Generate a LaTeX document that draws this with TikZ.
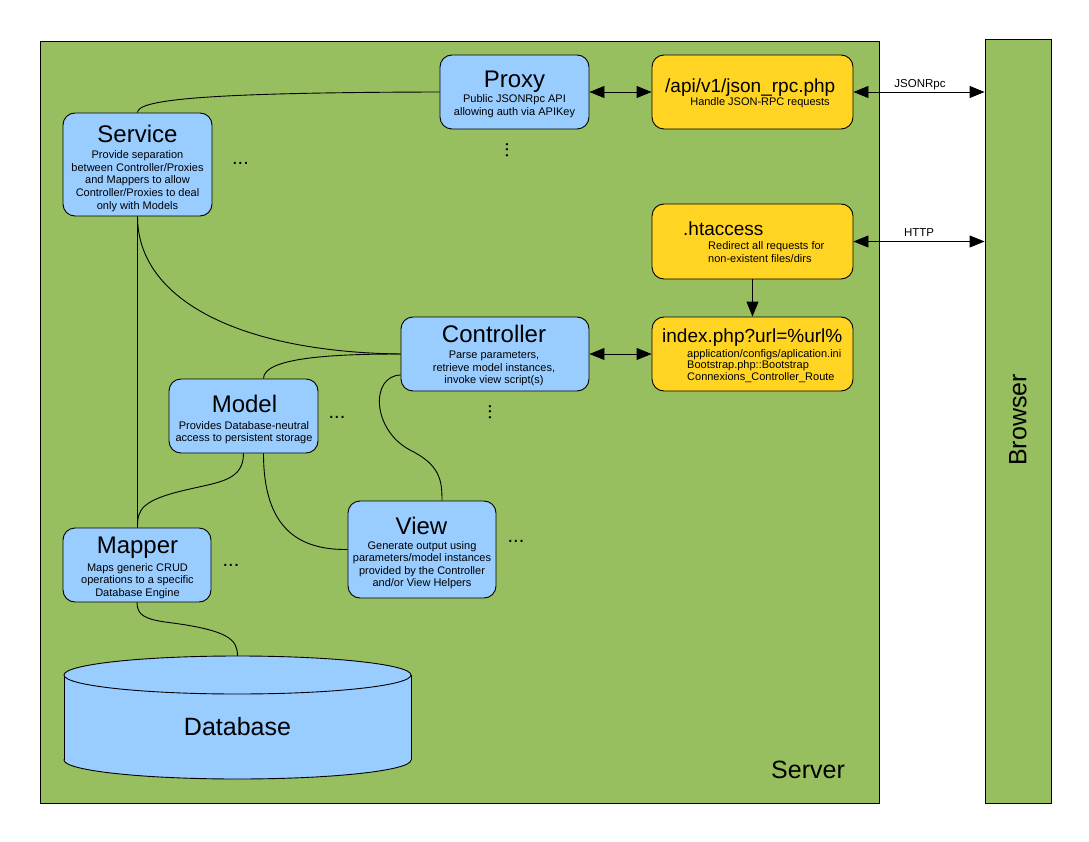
\documentclass[tikz,border=0pt]{standalone}
\usepackage{fontspec}
\setmainfont{Liberation Sans}
\usetikzlibrary{arrows.meta,calc}
\definecolor{srvgreen}{RGB}{151,190,95}
\definecolor{boxblue}{RGB}{153,204,255}
\definecolor{boxyellow}{RGB}{255,212,35}
\begin{document}
\begin{tikzpicture}[x=1pt,y=-1pt,
  panel/.style={draw=black,line width=0.9pt,fill=srvgreen,inner sep=0pt},
  bluebox/.style={draw=black,line width=0.9pt,rounded corners=12pt,fill=boxblue,inner sep=0pt},
  yellowbox/.style={draw=black,line width=0.9pt,rounded corners=12pt,fill=boxyellow,inner sep=0pt},
  title/.style={font=\fontsize{24}{28}\selectfont,anchor=base,inner sep=0pt},
  ytitle/.style={font=\fontsize{19}{22}\selectfont,anchor=base west,inner sep=0pt},
  body/.style={font=\fontsize{11}{12.6}\selectfont,align=center,anchor=north,inner sep=0pt},
  lbody/.style={font=\fontsize{11}{11.8}\selectfont,align=left,anchor=north west,inner sep=0pt},
  lbl/.style={font=\fontsize{11.5}{13}\selectfont,anchor=base,inner sep=0pt},
  big/.style={font=\fontsize{25}{28}\selectfont,inner sep=0pt},
  dots/.style={font=\fontsize{20}{20}\selectfont,inner sep=0pt},
  conn/.style={line width=0.9pt},
  arr/.style={-{Triangle[length=15pt,width=12pt]}},
  biarr/.style={{Triangle[length=15pt,width=12pt]}-{Triangle[length=15pt,width=12pt]}}
]
\useasboundingbox (0,0) rectangle (1089,842);
\fill[white] (0,0) rectangle (1089,842);

% panels
\node[panel,minimum width=839pt,minimum height=762pt] (server) at (459.5,422) {};
\node[panel,minimum width=66pt,minimum height=764pt] (browser) at (1018,421) {};
\node[big,rotate=90] (browserlbl) at (1018,420) {Browser};
\node[big,anchor=base west] (serverlbl) at (771,778) {Server};

% boxes
\node[bluebox,minimum width=149pt,minimum height=74pt] (proxy) at (514.5,92) {};
\node[yellowbox,minimum width=201pt,minimum height=74pt] (json) at (752.5,92) {};
\node[bluebox,minimum width=149pt,minimum height=103pt] (service) at (137.5,164.5) {};
\node[yellowbox,minimum width=201pt,minimum height=75pt] (htac) at (752.5,241.5) {};
\node[yellowbox,minimum width=201pt,minimum height=74pt] (index) at (752.5,354) {};
\node[bluebox,minimum width=188pt,minimum height=74pt] (ctrl) at (495,354) {};
\node[bluebox,minimum width=149pt,minimum height=74pt] (model) at (243.5,416) {};
\node[bluebox,minimum width=148pt,minimum height=97pt] (view) at (422,549.5) {};
\node[bluebox,minimum width=148pt,minimum height=74pt] (mapper) at (137,565) {};

% database cylinder
\fill[boxblue] (237.5,760) ellipse [x radius=173.5pt, y radius=19pt];
\draw[line width=0.9pt] (237.5,760) ellipse [x radius=173.5pt, y radius=19pt];
\fill[boxblue] (64,675) rectangle (411,760);
\draw[line width=0.9pt] (64,675) -- (64,760);
\draw[line width=0.9pt] (411,675) -- (411,760);
\filldraw[fill=boxblue,line width=0.9pt] (237.5,675) ellipse [x radius=173.5pt, y radius=19pt];
\coordinate (dbtop) at (237.5,656);
\node[big,anchor=base] (db) at (237.5,735) {Database};

% texts
\node[title] (proxyt) at (514.5,88) {Proxy};
\node[body,font=\fontsize{11}{13}\selectfont] (proxyb) at (514.5,94.5) {Public JSONRpc API\\allowing auth via APIKey};
\node[ytitle] (jsont) at (665,93) {/api/v1/json\_rpc.php};
\node[lbl,font=\fontsize{11}{12}\selectfont] (jsonb) at (760,105.5) {Handle JSON-RPC requests};
\node[title] (servicet) at (137.5,143) {Service};
\node[body] (serviceb) at (137.5,150.5) {Provide separation\\between Controller/Proxies\\and Mappers to allow\\Controller/Proxies to deal\\only with Models};
\node[ytitle] (htact) at (683,236) {.htaccess};
\node[lbody,font=\fontsize{11}{13}\selectfont] (htacb) at (708,241) {Redirect all requests for\\non-existent files/dirs};
\node[ytitle] (indext) at (662,342) {index.php?url=\%url\%};
\node[lbody] (indexb) at (687,349) {application/configs/aplication.ini\\Bootstrap.php::Bootstrap\\Connexions\_Controller\_Route};
\node[title] (ctrlt) at (494,342) {Controller};
\node[body] (ctrlb) at (494,351) {Parse parameters,\\retrieve model instances,\\invoke view script(s)};
\node[title] (modelt) at (244.5,412) {Model};
\node[body] (modelb) at (244,421) {Provides Database-neutral\\access to persistent storage};
\node[title] (viewt) at (421.5,534) {View};
\node[body] (viewb) at (422,541) {Generate output using\\parameters/model instances\\provided by the Controller\\and/or View Helpers};
\node[title] (mappert) at (137.5,553) {Mapper};
\node[body] (mapperb) at (137.5,563) {Maps generic CRUD\\operations to a specific\\Database Engine};

% ellipsis dots
\node[dots] (d1) at (240.5,163) {...};
\node[dots,rotate=90] (d2) at (507,150) {...};
\node[dots] (d3) at (337,417) {...};
\node[dots,rotate=90] (d4) at (490,412) {...};
\node[dots] (d5) at (516,541) {...};
\node[dots] (d6) at (231,565) {...};

% connectors
\draw[conn] (proxy.west) .. controls (200,92.5) and (137.5,100) .. (service.north);
\draw[conn,biarr] (proxy.east) -- (json.west);
\draw[conn,biarr] (json.east) -- (browser.west |- json.east);
\node[lbl] (jsonlbl) at (920,88) {JSONRpc};
\draw[conn,biarr] (htac.east) -- (browser.west |- htac.east);
\node[lbl] (httplbl) at (919,237) {HTTP};
\draw[conn,arr] (htac.south) -- (index.north);
\draw[conn,biarr] (ctrl.east) -- (index.west);
\draw[conn] (service.south) -- (service.south |- mapper.north);
\draw[conn] (service.south) .. controls (137.5,300) and (240,352) .. (ctrl.west);
\draw[conn] ($(model.north)+(20,0)$) .. controls (263.5,358) and (330,354) .. (ctrl.west);
\draw[conn] ($(ctrl.west)+(0,21)$) .. controls (370,376) and (372,430) .. (410,450) .. controls (440,465) and (442,480) .. ($(view.north)+(20,0)$);
\draw[conn] (model.south) .. controls (243.5,480) and (220,482) .. (190,489) .. controls (140,500) and (137.5,510) .. (service.south |- mapper.north);
\draw[conn] ($(model.south)+(20,0)$) .. controls (263.5,530) and (300,550) .. (view.west);
\draw[conn] (mapper.south) .. controls (137,615) and (145,619) .. (165,622) .. controls (230,630) and (237.5,640) .. (dbtop);
\end{tikzpicture}
\end{document}
